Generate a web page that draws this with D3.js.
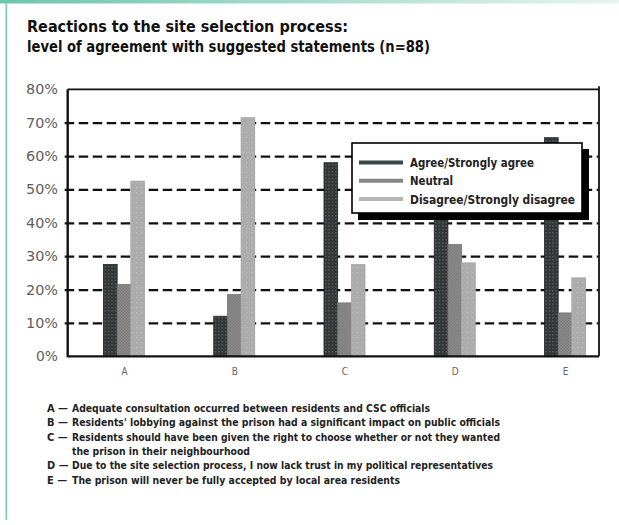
<!DOCTYPE html>
<html>
<head>
<meta charset="utf-8">
<script src="https://cdn.jsdelivr.net/npm/d3@7"></script>
<style>
  body { margin: 0; background: #fff; }
  svg { display: block; }
  text { font-family: "Liberation Sans Narrow", "DejaVu Sans Condensed", "Liberation Sans", sans-serif; }
</style>
</head>
<body>
<svg id="chart" width="619" height="525"></svg>
<script>
// ---- data ----
const categories = ["A", "B", "C", "D", "E"];
const seriesNames = ["Agree/Strongly agree", "Neutral", "Disagree/Strongly disagree"];
const agree    = [27.5, 12, 58, 41, 65.5];
const neutral  = [21.5, 18.5, 16, 33.5, 13];
const disagree = [52.5, 71.5, 27.5, 28, 23.5];
const yTicks = [0, 10, 20, 30, 40, 50, 60, 70, 80];
const titleLines = [
  "Reactions to the site selection process:",
  "level of agreement with suggested statements (n=88)"
];
const statementKeys = ["A", "B", "C", "", "D", "E"];
const statements = [
  "Adequate consultation occurred between residents and CSC officials",
  "Residents' lobbying against the prison had a significant impact on public officials",
  "Residents should have been given the right to choose whether or not they wanted",
  "the prison in their neighbourhood",
  "Due to the site selection process, I now lack trust in my political representatives",
  "The prison will never be fully accepted by local area residents"
];

const series = [agree, neutral, disagree];
const rows = categories.map((c, i) => ({
  cat: c,
  vals: seriesNames.map((s, j) => ({ key: s, idx: j, value: series[j][i] }))
}));

// ---- layout ----
const W = 619, H = 525;
const plot = { left: 67.7, right: 599, top: 89.3, bottom: 356.3 };

const svg = d3.select("#chart");

// patterned fills for the three series
const defs = svg.append("defs");
const pat = (id, size, bg, dots) => {
  const p = defs.append("pattern").attr("id", id)
    .attr("patternUnits", "userSpaceOnUse").attr("width", size).attr("height", size);
  p.append("rect").attr("width", size).attr("height", size).attr("fill", bg);
  dots.forEach(d => p.append("rect").attr("x", d[0]).attr("y", d[1])
    .attr("width", d[2]).attr("height", d[2]).attr("fill", d[3]));
};
pat("pAgree", 3.4, "#353535", [[1, 1, 1.2, "#4d7c7a"]]);
pat("pNeutral", 3, "#7c7c7c", [[0, 0, 1.5, "#8c8c8c"], [1.5, 1.5, 1.5, "#8c8c8c"]]);
pat("pDisagree", 5, "#acacac", [[2, 2, 1.3, "#bdbdbd"]]);
const fills = ["url(#pAgree)", "url(#pNeutral)", "url(#pDisagree)"];
const legendColors = ["#3a4747", "#858585", "#b6b6b6"];

const grad = defs.append("linearGradient").attr("id", "topBand");
grad.append("stop").attr("offset", "0%").attr("stop-color", "#6cc6ab");
grad.append("stop").attr("offset", "100%").attr("stop-color", "#e6f5f0");

// page border: teal band on top, thin teal rule on the left
svg.append("rect").attr("x", 0).attr("y", 0).attr("width", W).attr("height", 3.5).attr("fill", "url(#topBand)");
svg.append("rect").attr("x", 5.5).attr("y", 0).attr("width", 1.6).attr("height", 520).attr("fill", "#78cfb4");

// title
svg.selectAll("text.title").data(titleLines).join("text")
  .attr("class", "title")
  .attr("x", 27)
  .attr("y", (d, i) => 32 + i * 20)
  .attr("textLength", (d, i) => i === 0 ? 321 : 403)
  .attr("lengthAdjust", "spacingAndGlyphs")
  .style("font-size", "16px").style("font-weight", "bold").attr("fill", "#111")
  .text(d => d);

// scales
const y = d3.scaleLinear().domain([0, 80]).range([plot.bottom, plot.top]);
const x = d3.scalePoint().domain(categories).range([124, 565]);
const x1 = d3.scaleBand().domain(seriesNames).range([-20.5, 20.5]);

// dashed gridlines
const grid = svg.append("g").attr("transform", `translate(${plot.left},0)`)
  .call(d3.axisLeft(y).tickValues(yTicks.filter(t => t > 0 && t < 80))
    .tickSize(-(plot.right - plot.left) + 1).tickFormat(""));
grid.select(".domain").remove();
grid.selectAll(".tick line")
  .attr("x1", -3)
  .attr("stroke", "#111").attr("stroke-width", 2.2)
  .attr("stroke-dasharray", "9.5,4.5");

// y tick labels, left-anchored so each spans a fixed width ending at x = 58
const yAxis = svg.append("g").attr("transform", `translate(58,0)`)
  .call(d3.axisLeft(y).tickValues(yTicks).tickSize(0).tickPadding(0).tickFormat(d => d + "%"));
yAxis.select(".domain").remove();
const labelW = d => d === 0 ? 22 : 32;
yAxis.selectAll("text")
  .attr("text-anchor", "start")
  .attr("x", d => -labelW(d))
  .attr("fill", "#5e5e5e").style("font-size", "14px")
  .attr("textLength", labelW)
  .attr("lengthAdjust", "spacingAndGlyphs");

// bars
const groups = svg.append("g").selectAll("g").data(rows).join("g")
  .attr("transform", d => `translate(${x(d.cat)},0)`);
groups.selectAll("rect").data(d => d.vals).join("rect")
  .attr("x", d => x1(d.key))
  .attr("width", x1.bandwidth())
  .attr("y", d => y(d.value))
  .attr("height", d => y(0) - y(d.value))
  .attr("fill", d => fills[d.idx])
  .attr("stroke", d => d.idx === 0 ? "#222" : d.idx === 1 ? "#777" : "#a5a5a5")
  .attr("stroke-width", 0.8);

// x category labels
const xAxis = svg.append("g").attr("transform", `translate(0,${plot.bottom})`)
  .call(d3.axisBottom(x).tickSize(0).tickPadding(12));
xAxis.select(".domain").remove();
xAxis.selectAll("text").attr("fill", "#666").style("font-size", "10px");

// frame
const frame = svg.append("g").attr("stroke", "#111").attr("fill", "none");
frame.append("line").attr("x1", plot.left).attr("x2", plot.right).attr("y1", plot.top).attr("y2", plot.top).attr("stroke-width", 1.8);
frame.append("line").attr("x1", plot.right).attr("x2", plot.right).attr("y1", plot.top - 3).attr("y2", plot.bottom).attr("stroke-width", 1.8);
frame.append("line").attr("x1", plot.left).attr("x2", plot.left).attr("y1", plot.top).attr("y2", plot.bottom + 1).attr("stroke-width", 2.4);
frame.append("line").attr("x1", plot.left).attr("x2", plot.right).attr("y1", plot.bottom).attr("y2", plot.bottom).attr("stroke-width", 2.2);

// legend with drop shadow
const lg = svg.append("g").attr("transform", "translate(352,143)");
lg.append("rect").attr("x", 6).attr("y", 6).attr("width", 231).attr("height", 71).attr("fill", "#000");
lg.append("rect").attr("width", 230).attr("height", 70).attr("fill", "#fff").attr("stroke", "#000").attr("stroke-width", 1.6);
const items = lg.selectAll("g.item").data(seriesNames).join("g").attr("class", "item")
  .attr("transform", (d, i) => `translate(0,${19.5 + i * 18.3})`);
items.append("line").attr("x1", 7).attr("x2", 51)
  .attr("stroke", (d, i) => legendColors[i]).attr("stroke-width", 4);
items.append("text").attr("x", 58).attr("y", 4.5)
  .attr("textLength", (d, i) => [124, 43, 165][i])
  .attr("lengthAdjust", "spacingAndGlyphs")
  .style("font-size", "12px").style("font-weight", "bold").attr("fill", "#222")
  .text(d => d);

// statement key below the chart
const notes = svg.append("g").selectAll("g").data(statements).join("g")
  .attr("transform", (d, i) => `translate(0,${412 + i * 14.3})`);
notes.append("text").attr("x", 47)
  .style("font-size", "11px").style("font-weight", "bold").attr("fill", "#222")
  .text((d, i) => statementKeys[i] ? statementKeys[i] + " \u2014" : "");
const noteWidths = [358, 428, 428, 178, 421, 328];
notes.append("text").attr("x", 72)
  .attr("textLength", (d, i) => noteWidths[i])
  .attr("lengthAdjust", "spacingAndGlyphs")
  .style("font-size", "11px").style("font-weight", "bold").attr("fill", "#222")
  .text(d => d);
</script>
</body>
</html>
